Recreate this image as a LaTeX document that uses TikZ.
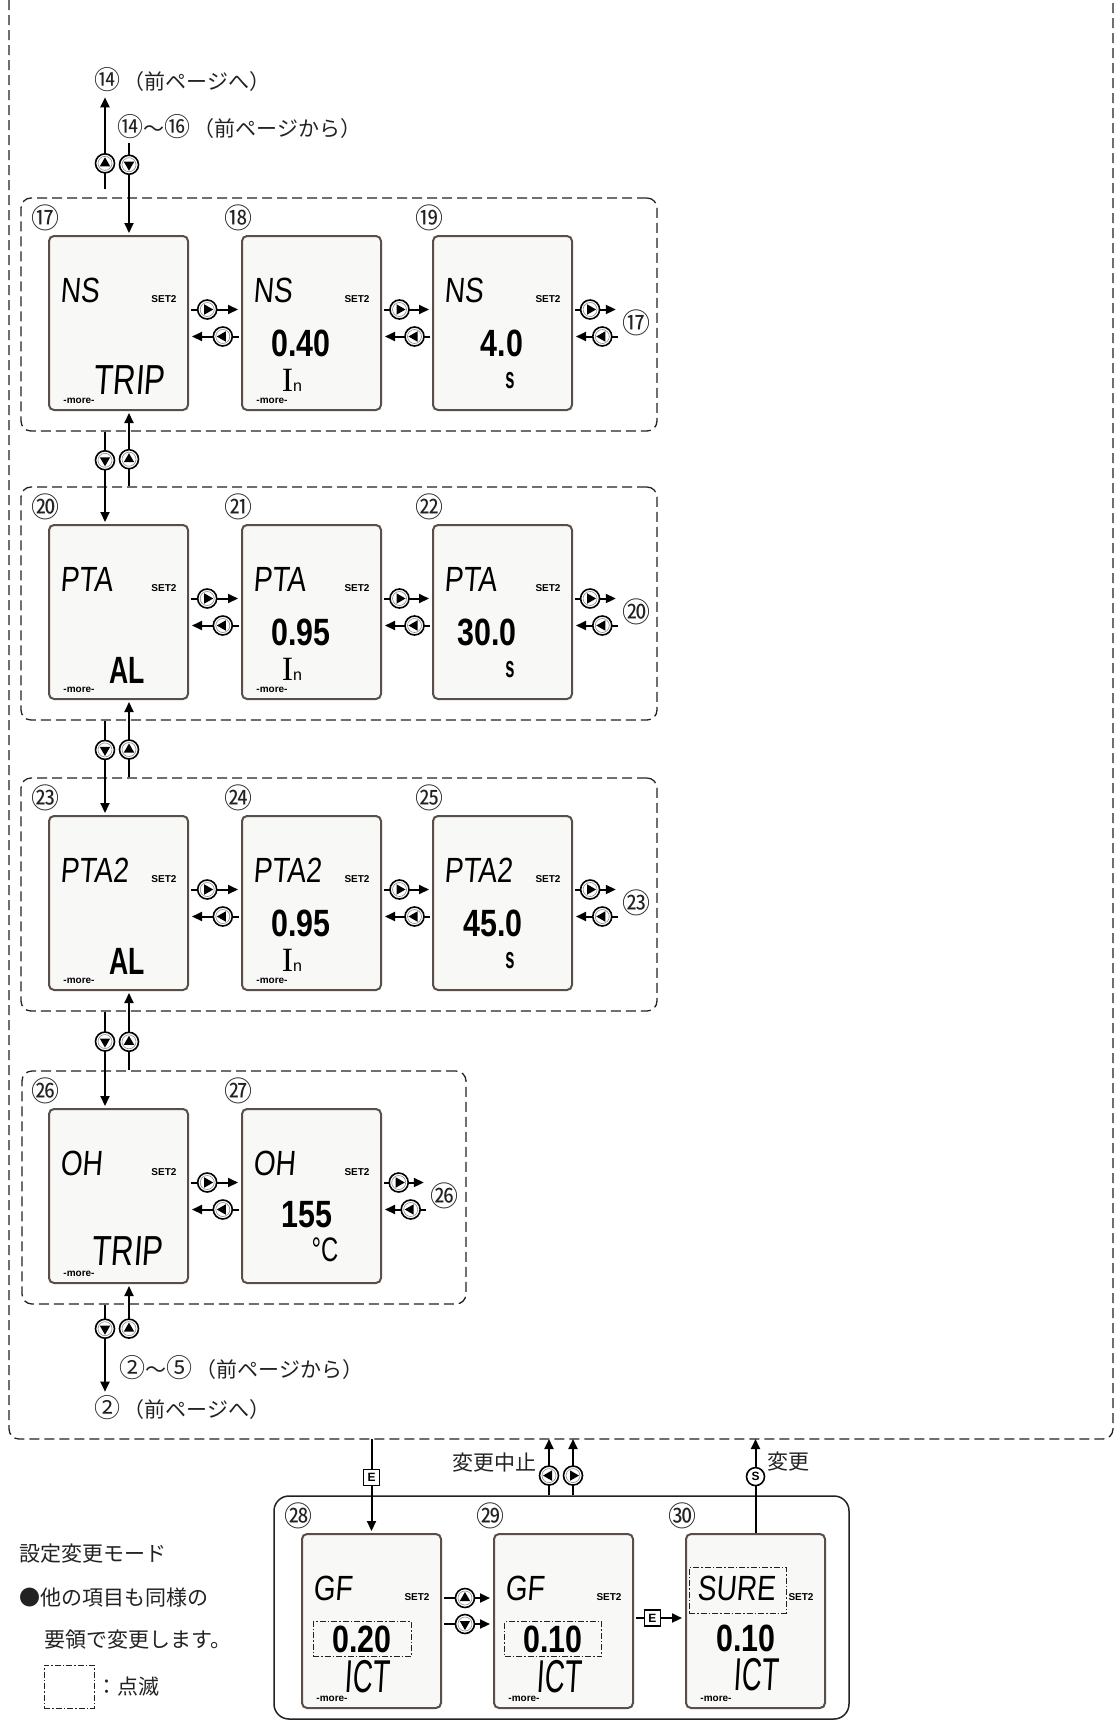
\documentclass[tikz,border=0pt]{standalone}
\usepackage{fontspec}
\usepackage{graphicx}
\usetikzlibrary{arrows.meta,positioning}
\newfontfamily\jp{Noto Sans CJK JP}
\newfontfamily\lcd{Liberation Sans}
\newfontfamily\lcdthin[FakeSlant=0.1]{Liberation Sans}
\newfontfamily\unitfont{Liberation Serif}
\definecolor{lcdedge}{HTML}{5A4E48}
\definecolor{lcdfill}{HTML}{F8F8F6}
\definecolor{ink}{HTML}{222222}
% one LCD screen: name, north-west corner, step number, mode name
\newcommand{\panel}[4]{%
  \node[lcd] (#1) at (#2) {};
  \node[num] (#1-n) at ([shift={(-3,-17)}]#1.north west) {#3};
  \node[modetxt] (#1-m) at ([shift={(12,55)}]#1.north west) {\scalebox{.8}[1]{#4}};
  \node[settag] (#1-s) at ([shift={(116,64)}]#1.north west) {SET2};}
\newcommand{\moretag}[1]{\node[moretxt] (#1-x) at ([shift={(31,166)}]#1.north west) {-more-};}
\newcommand{\cn}[1]{{\fontsize{26}{21}\selectfont #1}}
\newcommand{\In}{{\unitfont\fontsize{34}{34}\selectfont I}{\fontsize{16}{16}\selectfont n}}

\begin{document}
\begin{tikzpicture}[x=1pt, y=-1pt,
      lcd/.style={draw=lcdedge, line width=2pt, rounded corners=5pt, fill=lcdfill, minimum width=139pt, minimum height=174pt, inner sep=0pt, anchor=north west},
      grp/.style={draw=ink, line width=1.3pt, dash pattern=on 10pt off 5pt, rounded corners=10pt, minimum height=233pt, inner sep=0pt},
      frame/.style={draw=ink, line width=1.3pt, dash pattern=on 10pt off 5pt, rounded corners=10pt},
      modebox/.style={draw=ink, line width=1.5pt, rounded corners=15pt, minimum width=575pt, minimum height=223pt, inner sep=0pt},
      modetxt/.style={font=\lcdthin\fontsize{35}{35}\selectfont, inner sep=0pt, anchor=west},
      bigtxt/.style={font=\lcdthin\fontsize{42}{42}\selectfont, inner sep=0pt},
      settag/.style={font=\lcd\bfseries\fontsize{10}{10}\selectfont, inner sep=0pt},
      valtxt/.style={font=\lcd\bfseries\fontsize{38}{38}\selectfont, inner sep=0pt},
      unittxt/.style={font=\lcd\fontsize{22}{22}\selectfont, inner sep=0pt},
      moretxt/.style={font=\lcd\bfseries\fontsize{10}{10}\selectfont, inner sep=0pt},
      num/.style={font=\jp\fontsize{28}{28}\selectfont, inner sep=0pt, text=ink},
      jtxt/.style={font=\jp\fontsize{21}{21}\selectfont, inner sep=2pt, anchor=west, text=ink},
      blink/.style={draw=ink, line width=1pt, dash pattern=on 6pt off 2pt on 1.5pt off 2pt},
      arr/.style={-{Triangle[length=10pt,width=9pt]}, line width=2pt},
      harr/.style={arr, shorten <=2pt, shorten >=3pt},
      btn/.style={circle, draw, line width=1.6pt, fill=white, minimum size=19pt, inner sep=0pt,
        path picture={\draw[black!45, line width=.6pt] (path picture bounding box.center) circle[radius=7pt];
          \fill[black] (path picture bounding box.center) +(#1:6pt) -- +(#1+120:6pt) -- +(#1+240:6pt) -- cycle;}},
      ekey/.style={draw, line width=1.3pt, fill=white, minimum size=16pt, inner sep=0pt, font=\lcd\bfseries\fontsize{12}{12}\selectfont},
      skey/.style={circle, draw, line width=1.6pt, fill=white, minimum size=18pt, inner sep=0pt, font=\lcd\bfseries\fontsize{12}{12}\selectfont}]
    \useasboundingbox (0,0) rectangle (1116,1721);
    % setting menu frame
    \draw[frame] (9,0) -- (9,1439) -- (1113,1439) -- (1113,0);
    \coordinate (fb) at (561,1439);
    \coordinate (lx) at (105,0);
    \coordinate (rx) at (129,0);
    \node[grp, minimum width=636pt] (g17) at (339,314.5) {};
    \node[grp, minimum width=636pt] (g20) at (339,603.5) {};
    \node[grp, minimum width=636pt] (g23) at (339,894.5) {};
    \node[grp, minimum width=444pt] (g26) at (244,1187.5) {};

    % NS
    \panel{b17}{48,235}{⑰}{NS}
    \node[bigtxt] (b17-v) at ([shift={(81,145)}]b17.north west) {\scalebox{.74}[1]{TRIP}};
    \moretag{b17}
    \panel{b18}{241,235}{⑱}{NS}
    \node[valtxt] (b18-v) at ([shift={(60,108)}]b18.north west) {\scalebox{.8}[1]{0.40}};
    \node[unittxt] (b18-u) at ([shift={(51,145)}]b18.north west) {\In};
    \moretag{b18}
    \panel{b19}{432,235}{⑲}{NS}
    \node[valtxt] (b19-v) at ([shift={(70,108)}]b19.north west) {\scalebox{.8}[1]{4.0}};
    \node[unittxt] (b19-u) at ([shift={(78,146)}]b19.north west) {\scalebox{.55}[1]{\bfseries\fontsize{30}{30}\selectfont s}};
    \node[num] (r17) at ([xshift=63pt]b19.east) {⑰};

    % PTA
    \panel{b20}{48,524}{⑳}{PTA}
    \node[valtxt] (b20-v) at ([shift={(79,146)}]b20.north west) {\scalebox{.7}[1]{AL}};
    \moretag{b20}
    \panel{b21}{241,524}{㉑}{PTA}
    \node[valtxt] (b21-v) at ([shift={(60,108)}]b21.north west) {\scalebox{.8}[1]{0.95}};
    \node[unittxt] (b21-u) at ([shift={(51,145)}]b21.north west) {\In};
    \moretag{b21}
    \panel{b22}{432,524}{㉒}{PTA}
    \node[valtxt] (b22-v) at ([shift={(55,108)}]b22.north west) {\scalebox{.8}[1]{30.0}};
    \node[unittxt] (b22-u) at ([shift={(78,146)}]b22.north west) {\scalebox{.55}[1]{\bfseries\fontsize{30}{30}\selectfont s}};
    \node[num] (r20) at ([xshift=63pt]b22.east) {⑳};

    % PTA2
    \panel{b23}{48,815}{㉓}{PTA2}
    \node[valtxt] (b23-v) at ([shift={(79,146)}]b23.north west) {\scalebox{.7}[1]{AL}};
    \moretag{b23}
    \panel{b24}{241,815}{㉔}{PTA2}
    \node[valtxt] (b24-v) at ([shift={(60,108)}]b24.north west) {\scalebox{.8}[1]{0.95}};
    \node[unittxt] (b24-u) at ([shift={(51,145)}]b24.north west) {\In};
    \moretag{b24}
    \panel{b25}{432,815}{㉕}{PTA2}
    \node[valtxt] (b25-v) at ([shift={(61,108)}]b25.north west) {\scalebox{.8}[1]{45.0}};
    \node[unittxt] (b25-u) at ([shift={(78,146)}]b25.north west) {\scalebox{.55}[1]{\bfseries\fontsize{30}{30}\selectfont s}};
    \node[num] (r23) at ([xshift=63pt]b25.east) {㉓};

    % OH
    \panel{b26}{48,1108}{㉖}{OH}
    \node[bigtxt] (b26-v) at ([shift={(79,143)}]b26.north west) {\scalebox{.74}[1]{TRIP}};
    \moretag{b26}
    \panel{b27}{241,1108}{㉗}{OH}
    \node[valtxt] (b27-v) at ([shift={(66,107)}]b27.north west) {\scalebox{.8}[1]{155}};
    \node[unittxt] (b27-u) at ([shift={(84,142)}]b27.north west) {\scalebox{.7}[1]{\fontsize{34}{34}\selectfont °C}};
    \node[num] (r26) at ([xshift=62pt]b27.east) {㉖};

    % left / right inside the rows
    \draw[harr] ([yshift=13.5pt]b17.east) -- ([yshift=13.5pt]b18.west) node[pos=.35, btn=0]{};
    \draw[harr] ([yshift=-13.5pt]b18.west) -- ([yshift=-13.5pt]b17.east) node[pos=.35, btn=180]{};
    \draw[harr] ([yshift=13.5pt]b18.east) -- ([yshift=13.5pt]b19.west) node[pos=.35, btn=0]{};
    \draw[harr] ([yshift=-13.5pt]b19.west) -- ([yshift=-13.5pt]b18.east) node[pos=.35, btn=180]{};
    \draw[harr, shorten >=6pt] ([yshift=13.5pt]b19.east) -- ([yshift=13.5pt]r17.west) node[pos=.35, btn=0]{};
    \draw[harr, shorten <=4pt] ([yshift=-13.5pt]r17.west) -- ([yshift=-13.5pt]b19.east) node[pos=.4, btn=180]{};
    \draw[harr] ([yshift=13.5pt]b20.east) -- ([yshift=13.5pt]b21.west) node[pos=.35, btn=0]{};
    \draw[harr] ([yshift=-13.5pt]b21.west) -- ([yshift=-13.5pt]b20.east) node[pos=.35, btn=180]{};
    \draw[harr] ([yshift=13.5pt]b21.east) -- ([yshift=13.5pt]b22.west) node[pos=.35, btn=0]{};
    \draw[harr] ([yshift=-13.5pt]b22.west) -- ([yshift=-13.5pt]b21.east) node[pos=.35, btn=180]{};
    \draw[harr, shorten >=6pt] ([yshift=13.5pt]b22.east) -- ([yshift=13.5pt]r20.west) node[pos=.35, btn=0]{};
    \draw[harr, shorten <=4pt] ([yshift=-13.5pt]r20.west) -- ([yshift=-13.5pt]b22.east) node[pos=.4, btn=180]{};
    \draw[harr] ([yshift=13.5pt]b23.east) -- ([yshift=13.5pt]b24.west) node[pos=.35, btn=0]{};
    \draw[harr] ([yshift=-13.5pt]b24.west) -- ([yshift=-13.5pt]b23.east) node[pos=.35, btn=180]{};
    \draw[harr] ([yshift=13.5pt]b24.east) -- ([yshift=13.5pt]b25.west) node[pos=.35, btn=0]{};
    \draw[harr] ([yshift=-13.5pt]b25.west) -- ([yshift=-13.5pt]b24.east) node[pos=.35, btn=180]{};
    \draw[harr, shorten >=6pt] ([yshift=13.5pt]b25.east) -- ([yshift=13.5pt]r23.west) node[pos=.35, btn=0]{};
    \draw[harr, shorten <=4pt] ([yshift=-13.5pt]r23.west) -- ([yshift=-13.5pt]b25.east) node[pos=.4, btn=180]{};
    \draw[harr] ([yshift=13.5pt]b26.east) -- ([yshift=13.5pt]b27.west) node[pos=.35, btn=0]{};
    \draw[harr] ([yshift=-13.5pt]b27.west) -- ([yshift=-13.5pt]b26.east) node[pos=.35, btn=180]{};
    \draw[harr, shorten >=6pt] ([yshift=13.5pt]b27.east) -- ([yshift=13.5pt]r26.west) node[pos=.35, btn=0]{};
    \draw[harr, shorten <=4pt] ([yshift=-13.5pt]r26.west) -- ([yshift=-13.5pt]b27.east) node[pos=.4, btn=180]{};

    % up / down between the rows
    \node[jtxt] (t14) at (92,80) {\cn{⑭}\,（前ページへ）};
    \node[jtxt] (t1416) at (115,127) {\cn{⑭}～\cn{⑯}\,（前ページから）};
    \draw[arr, shorten <=8pt, shorten >=3pt] (lx |- g17.north) -- (lx |- t14.south) node[pos=.33, btn=90]{};
    \draw[arr, shorten <=2pt, shorten >=2pt] (rx |- t1416.south) -- (rx |- b17.north) node[pos=.25, btn=270]{};
    \draw[arr, shorten >=2pt] (lx |- g17.south) -- (lx |- b20.north) node[pos=.31, btn=270]{};
    \draw[arr, shorten >=2pt] (rx |- g20.north) -- (rx |- b17.south) node[pos=.36, btn=90]{};
    \draw[arr, shorten >=2pt] (lx |- g20.south) -- (lx |- b23.north) node[pos=.31, btn=270]{};
    \draw[arr, shorten >=2pt] (rx |- g23.north) -- (rx |- b20.south) node[pos=.36, btn=90]{};
    \draw[arr, shorten >=2pt] (lx |- g23.south) -- (lx |- b26.north) node[pos=.31, btn=270]{};
    \draw[arr, shorten >=2pt] (rx |- g26.north) -- (rx |- b23.south) node[pos=.36, btn=90]{};
    \node[jtxt] (t25) at (117,1368) {\cn{②}～\cn{⑤}\,（前ページから）};
    \node[jtxt] (t2) at (92,1408) {\cn{②}\,（前ページへ）};
    \draw[arr, shorten >=2pt] (lx |- g26.south) -- (lx |- t2.north) node[pos=.27, btn=270]{};
    \draw[arr, shorten <=15pt, shorten >=2pt] (rx |- t25.north) -- (rx |- b26.south) node[pos=.36, btn=90]{};

    % change mode
    \node[modebox] (mode) at (561.5,1607.5) {};
    \panel{b28}{301,1533}{㉘}{GF}
    \node[valtxt, blink, minimum width=98pt, minimum height=35pt] (b28-v) at ([shift={(61,106)}]b28.north west) {\scalebox{.8}[1]{0.20}};
    \node[bigtxt] (b28-u) at ([shift={(66,144)}]b28.north west) {\scalebox{.6}[1]{\fontsize{46}{46}\selectfont ICT}};
    \moretag{b28}
    \panel{b29}{493,1533}{㉙}{GF}
    \node[valtxt, blink, minimum width=97pt, minimum height=35pt] (b29-v) at ([shift={(60,106)}]b29.north west) {\scalebox{.8}[1]{0.10}};
    \node[bigtxt] (b29-u) at ([shift={(66,144)}]b29.north west) {\scalebox{.6}[1]{\fontsize{46}{46}\selectfont ICT}};
    \moretag{b29}
    \panel{b30}{685,1533}{㉚}{SURE}
    \node[blink, minimum width=97pt, minimum height=46pt, inner sep=0pt] (b30-k) at ([shift={(52.5,57)}]b30.north west) {};
    \node[valtxt] (b30-v) at ([shift={(61,105)}]b30.north west) {\scalebox{.8}[1]{0.10}};
    \node[bigtxt] (b30-u) at ([shift={(71,142)}]b30.north west) {\scalebox{.6}[1]{\fontsize{46}{46}\selectfont ICT}};
    \moretag{b30}
    \draw[harr] ([yshift=23pt]b28.east) -- ([yshift=23pt]b29.west) node[pos=.45, btn=90]{};
    \draw[harr] ([yshift=-3pt]b28.east) -- ([yshift=-3pt]b29.west) node[pos=.45, btn=270]{};
    \draw[harr] ([yshift=3pt]b29.east) -- ([yshift=3pt]b30.west) node[pos=.36, ekey]{E};

    \draw[arr, shorten >=2pt] (b28.north |- fb) -- (b28.north) node[pos=.41, ekey]{E};
    \coordinate (qL) at (549,0);
    \coordinate (qR) at (573,0);
    \draw[arr] (qL |- mode.north) -- (qL |- fb) node[pos=.35, btn=180]{};
    \draw[arr] (qR |- mode.north) -- (qR |- fb) node[pos=.35, btn=0]{};
    \node[jtxt, anchor=east] (stop) at (539,1463) {変更中止};
    \draw[arr] (b30.north) -- (b30.north |- fb) node[pos=.6, skey]{S};
    \node[jtxt] (chg) at (765,1462) {変更};

    % legend
    \node[jtxt] (l1) at (17,1554) {設定変更モード};
    \node[jtxt] (l2) at (17,1598) {●他の項目も同様の};
    \node[jtxt] (l3) at (42,1640) {要領で変更します。};
    \node[blink, minimum width=50pt, minimum height=43pt, inner sep=0pt] (lg) at (69,1686.5) {};
    \node[jtxt] (l4) at (lg.east) {：点滅};
  \end{tikzpicture}
\end{document}
